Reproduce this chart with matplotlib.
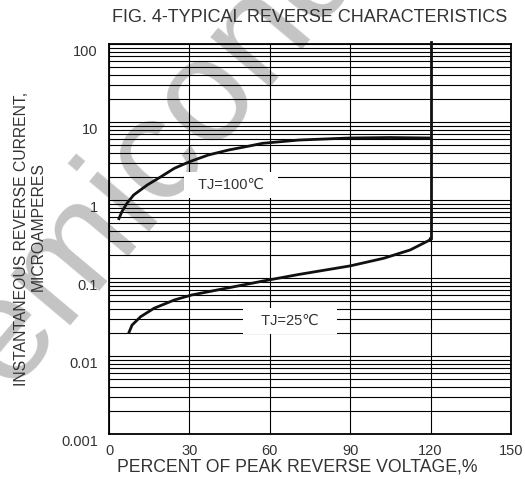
import matplotlib.pyplot as plt
import matplotlib.transforms as mtransforms
from matplotlib.ticker import FixedLocator, NullFormatter, LogLocator

plt.rcParams['font.family'] = ['Liberation Sans', 'DejaVu Sans']

# curva TJ=100C
voltaje_100 = [3.5, 4.8, 6.7, 9.2, 14.3, 19.4, 24.4, 30.1, 37.1, 44.7, 52.3, 57.3, 70.8, 90.0, 104.8, 120.0]
corriente_100 = [0.555, 0.708, 0.908, 1.16, 1.56, 1.99, 2.55, 3.10, 3.78, 4.38, 4.92, 5.33, 5.87, 6.24, 6.32, 6.24]

# curva TJ=25C
voltaje_25 = [7.3, 8.6, 11.8, 16.8, 24.4, 30.8, 40.4, 48.0, 58.1, 70.8, 90.0, 102.5, 112.4, 119.7, 120.0]
corriente_25 = [0.0195, 0.0249, 0.0319, 0.0409, 0.0523, 0.0605, 0.0702, 0.0789, 0.0923, 0.111, 0.143, 0.179, 0.229, 0.307, 0.33]

# linea vertical en 120%
voltaje_ruptura = [120.0, 120.0]
corriente_ruptura = [0.33, 106]

x_ticks = [0, 30, 60, 90, 120, 150]
y_ticks = [0.001, 0.01, 0.1, 1, 10, 100]
y_etiquetas = ['0.001', '0.01', '0.1', '1', '10', '100']

gris = '#333333'

fig = plt.figure(figsize=(5.25, 4.79), dpi=100)

# marca de agua
fig.text(-0.103, 0.029, 'Semiconductor', rotation=50, rotation_mode='anchor',
         ha='left', va='baseline', fontsize=106, color='#c4c4c4', zorder=0)

ax = fig.add_axes([109/525, 1-434/479, 402/525, 390/479])
ax.set_zorder(1)
ax.patch.set_alpha(0)

ax.set_yscale('log')
ax.set_xlim(0, 150)
ax.set_ylim(0.001, 100)

ax.xaxis.set_major_locator(FixedLocator(x_ticks))
ax.yaxis.set_major_locator(FixedLocator(y_ticks))
ax.yaxis.set_minor_locator(LogLocator(base=10, subs=range(2, 10)))
ax.yaxis.set_minor_formatter(NullFormatter())
ax.set_yticklabels(y_etiquetas)

ax.grid(which='both', axis='y', color='black', lw=0.8)
ax.grid(which='major', axis='x', color='black', lw=0.8)
ax.tick_params(which='both', length=0)
ax.tick_params(axis='x', pad=7, labelsize=10.5, labelcolor=gris)
ax.tick_params(axis='y', pad=8, labelsize=10.5, labelcolor=gris)

desplazar = mtransforms.ScaledTranslation(0, -7/100, fig.dpi_scale_trans)
for etiqueta in ax.get_yticklabels():
    etiqueta.set_transform(etiqueta.get_transform() + desplazar)

for lado in ax.spines.values():
    lado.set_linewidth(1.3)
    lado.set_color('black')

ax.plot(voltaje_100, corriente_100, color='#111111', lw=2.0, solid_capstyle='butt', zorder=3)
ax.plot(voltaje_25, corriente_25, color='#111111', lw=2.0, solid_capstyle='butt', zorder=3)
ax.plot(voltaje_ruptura, corriente_ruptura, color='#111111', lw=2.0, clip_on=False, zorder=3)

caja = dict(boxstyle='square,pad=0.4', facecolor='white', edgecolor='none')
ax.text(45.5, 1.56, '  TJ=100℃  ', fontsize=10.5, color=gris, ha='center', va='center', bbox=caja, zorder=4)
ax.text(67.5, 0.028, '   TJ=25℃   ', fontsize=10.5, color=gris, ha='center', va='center', bbox=caja, zorder=4)

fig.text(310/525, 1-18/479, 'FIG. 4-TYPICAL REVERSE CHARACTERISTICS', fontsize=13,
         color=gris, ha='center', va='center')
fig.text(297/525, 1-467/479, 'PERCENT OF PEAK REVERSE VOLTAGE,%', fontsize=12.7,
         color=gris, ha='center', va='center')
fig.text(22/525, 1-239/479, 'INSTANTANEOUS REVERSE CURRENT,', fontsize=11.3,
         color=gris, ha='center', va='center', rotation=90)
fig.text(38/525, 1-227/479, 'MICROAMPERES', fontsize=11.3,
         color=gris, ha='center', va='center', rotation=90)

fig.savefig('out.png', dpi=100)
